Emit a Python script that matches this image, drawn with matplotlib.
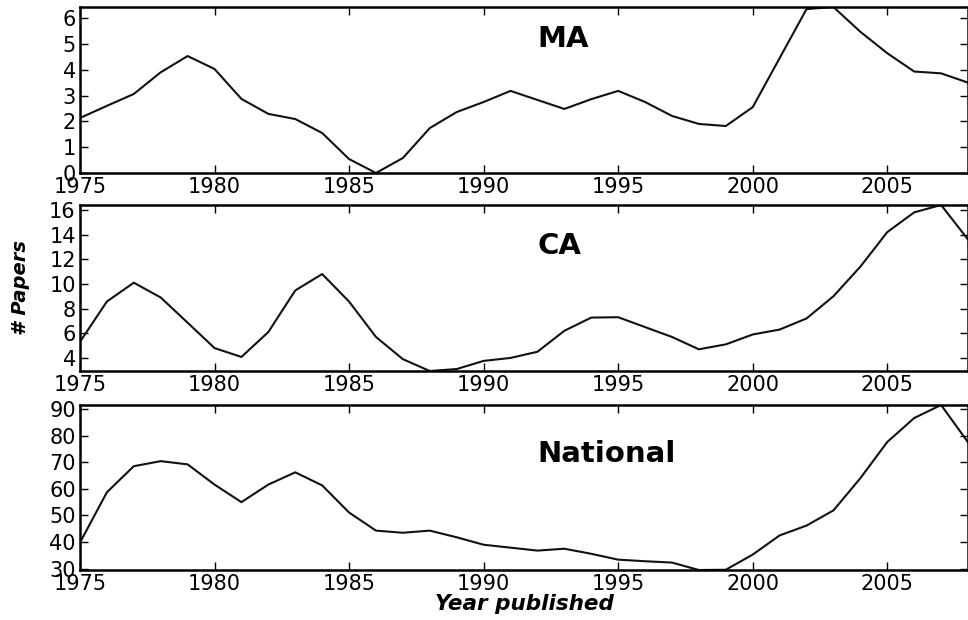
import matplotlib
matplotlib.use('Agg')
import matplotlib.pyplot as plt
from matplotlib.ticker import MultipleLocator

# data
years = list(range(1975, 2009))
ma = [2.13, 2.6, 3.06, 3.9, 4.53, 4.03, 2.87, 2.29, 2.09, 1.55,
      0.54, 0.0, 0.58, 1.74, 2.36, 2.75, 3.18, 2.83, 2.48, 2.86,
      3.18, 2.75, 2.21, 1.9, 1.82, 2.55, 4.45, 6.35, 6.43, 5.47,
      4.64, 3.93, 3.86, 3.5]
ca = [5.3, 8.57, 10.1, 8.9, 6.86, 4.8, 4.08, 6.1, 9.47, 10.8,
      8.57, 5.7, 3.9, 2.94, 3.1, 3.76, 4.0, 4.5, 6.2, 7.27,
      7.3, 6.5, 5.7, 4.7, 5.1, 5.9, 6.3, 7.2, 9.0, 11.4,
      14.2, 15.8, 16.4, 13.6]
national = [39.8, 58.7, 68.5, 70.4, 69.2, 61.6, 55.0, 61.6, 66.2, 61.3,
            51.1, 44.3, 43.5, 44.3, 41.8, 39.0, 37.9, 36.8, 37.5, 35.6,
            33.4, 32.8, 32.3, 29.5, 29.6, 35.3, 42.5, 46.2, 51.9, 64.0,
            77.6, 86.6, 91.5, 77.5]

labels = ['MA', 'CA', 'National']
series = [ma, ca, national]
label_y = [5.2, 13.1, 73]
ystep = [1, 2, 10]

fig = plt.figure(figsize=(9.68, 6.2), dpi=100)
rects = [[0.0826, 0.721, 0.9174, 0.2677],
         [0.0826, 0.4016, 0.9174, 0.2678],
         [0.0826, 0.0806, 0.9174, 0.2662]]

for rect, name, vals, ly, st in zip(rects, labels, series, label_y, ystep):
    ax = fig.add_axes(rect)
    ax.plot(years, vals, color='#111111', linewidth=1.5)
    ax.set_xlim(1975, 2008)
    ax.set_ylim(min(vals), max(vals))
    ax.xaxis.set_major_locator(MultipleLocator(5))
    ax.yaxis.set_major_locator(MultipleLocator(st))
    ax.tick_params(direction='in', top=True, right=True, length=6,
                   width=1, labelsize=15, pad=3, colors='black')
    for s in ax.spines.values():
        s.set_linewidth(1.8)
    ax.text(1992, ly, name, fontsize=21, fontweight='bold',
            ha='left', va='center')
    if name == 'CA':
        ax.set_ylabel('# Papers', fontsize=14, fontweight='bold',
                      fontstyle='italic', labelpad=14)
    if name == 'National':
        ax.set_xlabel('Year published', fontsize=15.5, fontweight='bold',
                      fontstyle='italic', labelpad=0)

fig.savefig('out.png', dpi=100)
